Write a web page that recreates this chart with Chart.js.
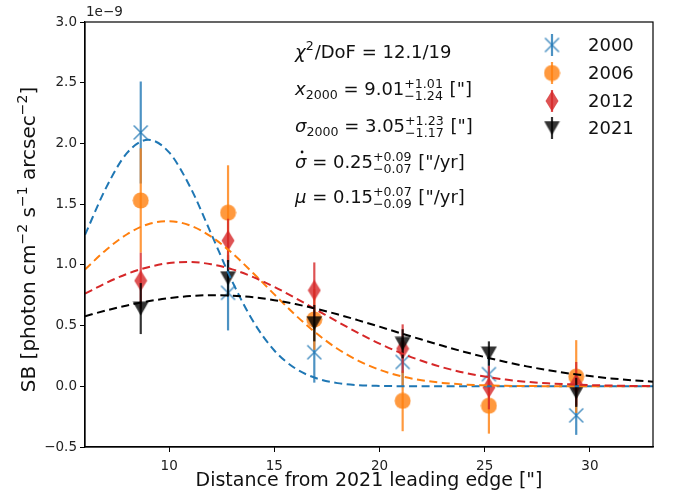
<!DOCTYPE html>
<html lang="en">
<head>
<meta charset="UTF-8">
<title>SB profiles 2000-2021</title>
<style>
  body { margin: 0; background: #fff; }
  canvas { display: block; }
</style>
</head>
<body>
<canvas id="sbChart" width="673" height="496"></canvas>
<script src="https://cdn.jsdelivr.net/npm/chart.js@4/dist/chart.umd.min.js"></script>
<script>
// surface brightness, in units of 1e-9 photon cm^-2 s^-1 arcsec^-2
const ptX = [8.65, 12.8, 16.9, 21.1, 25.2, 29.35];

const sb2000 = [2.09, 0.77, 0.28, 0.20, 0.10, -0.24];
const err2000 = [0.42, 0.31, 0.25, 0.20, 0.15, 0.16];
const sb2006 = [1.53, 1.43, 0.55, -0.12, -0.16, 0.08];
const err2006 = [0.43, 0.39, 0.25, 0.25, 0.23, 0.30];
const sb2012 = [0.87, 1.20, 0.79, 0.31, -0.01, 0.02];
const err2012 = [0.23, 0.18, 0.23, 0.20, 0.18, 0.18];
const sb2021 = [0.64, 0.89, 0.52, 0.35, 0.27, -0.05];
const err2021 = [0.21, 0.15, 0.15, 0.12, 0.10, 0.12];

// fitted profiles
const fitX = [6, 7, 8, 9, 10, 11, 12, 13, 14, 15, 16, 17, 18, 19, 20, 21, 22, 23, 24, 25, 26, 27, 28, 29, 30, 31, 32, 33];
const fit2000 = [1.247, 1.634, 1.922, 2.030, 1.926, 1.641, 1.256, 0.863, 0.533, 0.295, 0.147, 0.066, 0.026, 0.009, 0.003, 0.001, 0, 0, 0, 0, 0, 0, 0, 0, 0, 0, 0, 0];
const fit2006 = [0.962, 1.123, 1.252, 1.335, 1.360, 1.324, 1.232, 1.096, 0.931, 0.757, 0.587, 0.436, 0.309, 0.210, 0.136, 0.084, 0.050, 0.028, 0.015, 0.008, 0.004, 0.002, 0.001, 0, 0, 0, 0, 0];
const fit2012 = [0.763, 0.851, 0.926, 0.981, 1.015, 1.023, 1.005, 0.963, 0.899, 0.819, 0.727, 0.630, 0.532, 0.438, 0.351, 0.275, 0.210, 0.156, 0.113, 0.080, 0.055, 0.037, 0.024, 0.016, 0.010, 0.006, 0.003, 0.002];
const fit2021 = [0.577, 0.624, 0.666, 0.700, 0.726, 0.743, 0.750, 0.746, 0.733, 0.709, 0.677, 0.638, 0.593, 0.543, 0.491, 0.437, 0.385, 0.334, 0.285, 0.241, 0.200, 0.164, 0.133, 0.106, 0.084, 0.065, 0.050, 0.038];

const xTicks = [10, 15, 20, 25, 30];
const yTicks = [-0.5, 0, 0.5, 1.0, 1.5, 2.0, 2.5, 3.0];

const FONT = 'DejaVu Sans';
const BLUE = '31,119,180', ORANGE = '255,127,14', RED = '214,39,40', BLACK = '0,0,0';

// small canvases used as point styles (markers like matplotlib's x, o, d, v)
function marker(kind, rgb) {
  const c = document.createElement('canvas');
  const g = c.getContext('2d');
  const col = 'rgba(' + rgb + ',0.8)';
  if (kind === 'x') {
    c.width = 17; c.height = 17;
    g.strokeStyle = col; g.lineWidth = 1.5;
    g.beginPath();
    g.moveTo(1.5, 1.5); g.lineTo(15.5, 15.5);
    g.moveTo(15.5, 1.5); g.lineTo(1.5, 15.5);
    g.stroke();
  } else if (kind === 'o') {
    c.width = 17; c.height = 17;
    g.fillStyle = col;
    g.beginPath(); g.arc(8.5, 8.5, 8, 0, Math.PI * 2); g.fill();
  } else if (kind === 'd') {
    c.width = 14; c.height = 22;
    g.fillStyle = col;
    g.beginPath();
    g.moveTo(7, 0.5); g.lineTo(13.5, 11); g.lineTo(7, 21.5); g.lineTo(0.5, 11);
    g.closePath(); g.fill();
  } else {
    c.width = 17; c.height = 15;
    g.fillStyle = col;
    g.beginPath();
    g.moveTo(0.5, 0.5); g.lineTo(16.5, 0.5); g.lineTo(8.5, 14.5);
    g.closePath(); g.fill();
  }
  return c;
}

function points(ys) { return ptX.map((x, i) => ({x: x, y: ys[i]})); }
function curve(ys) { return fitX.map((x, i) => ({x: x, y: ys[i]})); }

function pointSet(label, ys, errs, rgb, kind, order) {
  return {
    label: label,
    data: points(ys),
    errors: errs,
    barColor: 'rgba(' + rgb + ',0.8)',
    pointStyle: marker(kind, rgb),
    showLine: false,
    order: order
  };
}

function curveSet(ys, rgb, order) {
  return {
    label: '',
    data: curve(ys),
    showLine: true,
    borderColor: 'rgb(' + rgb + ')',
    borderWidth: 2,
    borderDash: [8, 4.5],
    pointRadius: 0,
    cubicInterpolationMode: 'monotone',
    order: order
  };
}

// vertical error bars, drawn just under each series' markers
const errorBars = {
  id: 'errorBars',
  beforeDatasetDraw(chart, args) {
    const ds = chart.data.datasets[args.index];
    if (!ds.errors) return;
    const ctx = chart.ctx, xs = chart.scales.x, ys = chart.scales.y;
    ctx.save();
    ctx.strokeStyle = ds.barColor;
    ctx.lineWidth = 2.2;
    ds.data.forEach((p, i) => {
      const px = xs.getPixelForValue(p.x);
      ctx.beginPath();
      ctx.moveTo(px, ys.getPixelForValue(p.y - ds.errors[i]));
      ctx.lineTo(px, ys.getPixelForValue(p.y + ds.errors[i]));
      ctx.stroke();
    });
    ctx.restore();
  }
};

// text with italics, sub/superscripts and stacked +/- errors
function mathLine(ctx, x, y, parts, size) {
  size = size || 18;
  const big = size + 'px "' + FONT + '"', bigIt = 'oblique ' + size + 'px "' + FONT + '"';
  const small = (size * 0.7).toFixed(1) + 'px "' + FONT + '"';
  parts.forEach(p => {
    if (p.up !== undefined) {
      ctx.font = small;
      const w = Math.max(ctx.measureText(p.up).width, ctx.measureText(p.dn).width);
      ctx.fillText(p.up, x, y - 7);
      ctx.fillText(p.dn, x, y + 5);
      x += w + 1;
    } else {
      ctx.font = p.s ? small : (p.it ? bigIt : big);
      ctx.fillText(p.t, x, y + (p.dy || 0));
      const w = ctx.measureText(p.t).width;
      if (p.dot) {
        ctx.beginPath();
        ctx.arc(x + w * 0.62, y - 16, 1.4, 0, Math.PI * 2);
        ctx.fill();
      }
      x += w + (p.gap || 0);
    }
  });
  return x;
}

function mathWidth(ctx, parts, size) {
  ctx.save();
  ctx.globalAlpha = 0;
  const w = mathLine(ctx, 0, -100, parts, size);
  ctx.restore();
  return w;
}

const extras = {
  id: 'extras',
  afterDraw(chart) {
    const ctx = chart.ctx, a = chart.chartArea;
    ctx.save();
    // frame
    ctx.strokeStyle = '#000';
    ctx.lineWidth = 1.2;
    ctx.strokeRect(a.left, a.top, a.right - a.left, a.bottom - a.top);

    // offset text
    ctx.fillStyle = '#222';
    ctx.font = '13.5px "' + FONT + '"';
    ctx.textBaseline = 'alphabetic';
    ctx.textAlign = 'left';
    ctx.fillText('1e\u22129', a.left + 1, 16);

    // y axis label with real superscripts
    const yl = [{t: 'SB [photon cm'}, {t: '\u22122', s: 1, dy: -8}, {t: ' s'}, {t: '\u22121', s: 1, dy: -8},
                {t: ' arcsec'}, {t: '\u22122', s: 1, dy: -8}, {t: ']'}];
    ctx.fillStyle = '#111';
    const yw = mathWidth(ctx, yl, 20);
    ctx.save();
    ctx.translate(35, (a.top + a.bottom) / 2 + 5);
    ctx.rotate(-Math.PI / 2);
    mathLine(ctx, -yw / 2, 0, yl, 20);
    ctx.restore();

    // fit results
    ctx.fillStyle = '#111';
    const x0 = 295;
    mathLine(ctx, x0, 58, [{t: '\u03c7', it: 1}, {t: '2', s: 1, dy: -8, gap: 1}, {t: '/DoF = 12.1/19'}]);
    mathLine(ctx, x0, 95, [{t: 'x', it: 1}, {t: '2000', s: 1, dy: 4}, {t: ' = 9.01'}, {up: '+1.01', dn: '\u22121.24'}, {t: ' ["]'}]);
    mathLine(ctx, x0, 132, [{t: '\u03c3', it: 1}, {t: '2000', s: 1, dy: 4}, {t: ' = 3.05'}, {up: '+1.23', dn: '\u22121.17'}, {t: ' ["]'}]);
    mathLine(ctx, x0, 168, [{t: '\u03c3', it: 1, dot: 1}, {t: ' = 0.25'}, {up: '+0.09', dn: '\u22120.07'}, {t: ' ["/yr]'}]);
    mathLine(ctx, x0, 203, [{t: '\u03bc', it: 1}, {t: ' = 0.15'}, {up: '+0.07', dn: '\u22120.09'}, {t: ' ["/yr]'}]);

    // legend (errorbar handles: bar + marker)
    const rows = [45, 73, 101, 128];
    const sets = chart.data.datasets.filter(d => d.errors);
    ctx.font = '18px "' + FONT + '"';
    ctx.textBaseline = 'middle';
    sets.forEach((d, i) => {
      const y = rows[i], mx = 552;
      ctx.strokeStyle = d.barColor;
      ctx.lineWidth = 2.2;
      ctx.beginPath(); ctx.moveTo(mx, y - 11); ctx.lineTo(mx, y + 11); ctx.stroke();
      const img = d.pointStyle;
      ctx.drawImage(img, mx - img.width / 2, y - img.height / 2);
      ctx.fillStyle = '#111';
      ctx.fillText(d.label, 588, y + 1);
    });
    ctx.restore();
  }
};

const ctx = document.getElementById('sbChart').getContext('2d');
const chart = new Chart(ctx, {
  type: 'scatter',
  data: {
    datasets: [
      curveSet(fit2021, BLACK, 0),
      curveSet(fit2012, RED, 1),
      curveSet(fit2006, ORANGE, 2),
      curveSet(fit2000, BLUE, 3),
      pointSet('2000', sb2000, err2000, BLUE, 'x', 7),
      pointSet('2006', sb2006, err2006, ORANGE, 'o', 6),
      pointSet('2012', sb2012, err2012, RED, 'd', 5),
      pointSet('2021', sb2021, err2021, BLACK, 'v', 4)
    ]
  },
  options: {
    responsive: false,
    animation: false,
    events: [],
    layout: { padding: { top: 22, right: 20, left: 0, bottom: 0 } },
    plugins: { legend: { display: false }, tooltip: { enabled: false } },
    scales: {
      x: {
        type: 'linear',
        min: 6,
        max: 33,
        afterBuildTicks: s => { s.ticks = xTicks.map(v => ({value: v})); },
        afterFit: s => { s.height = 49; },
        grid: { drawOnChartArea: false, tickLength: 5, tickColor: '#000', tickWidth: 1 },
        border: { color: '#000', width: 1.2 },
        ticks: { color: '#222', font: { family: FONT, size: 13.5 }, padding: 6, maxRotation: 0 },
        title: { display: true, text: 'Distance from 2021 leading edge ["]', color: '#111',
                 font: { family: FONT, size: 19 }, padding: { top: 0, bottom: 4 } }
      },
      y: {
        type: 'linear',
        min: -0.5,
        max: 3.0,
        afterBuildTicks: s => { s.ticks = yTicks.map(v => ({value: v})); },
        afterFit: s => { s.width = 85; },
        grid: { drawOnChartArea: false, tickLength: 5, tickColor: '#000', tickWidth: 1 },
        border: { color: '#000', width: 1.2 },
        ticks: { color: '#222', font: { family: FONT, size: 13.5 }, padding: 3,
                 callback: v => v.toFixed(1).replace('-', '\u2212') }
      }
    }
  },
  plugins: [errorBars, extras]
});
</script>
</body>
</html>
